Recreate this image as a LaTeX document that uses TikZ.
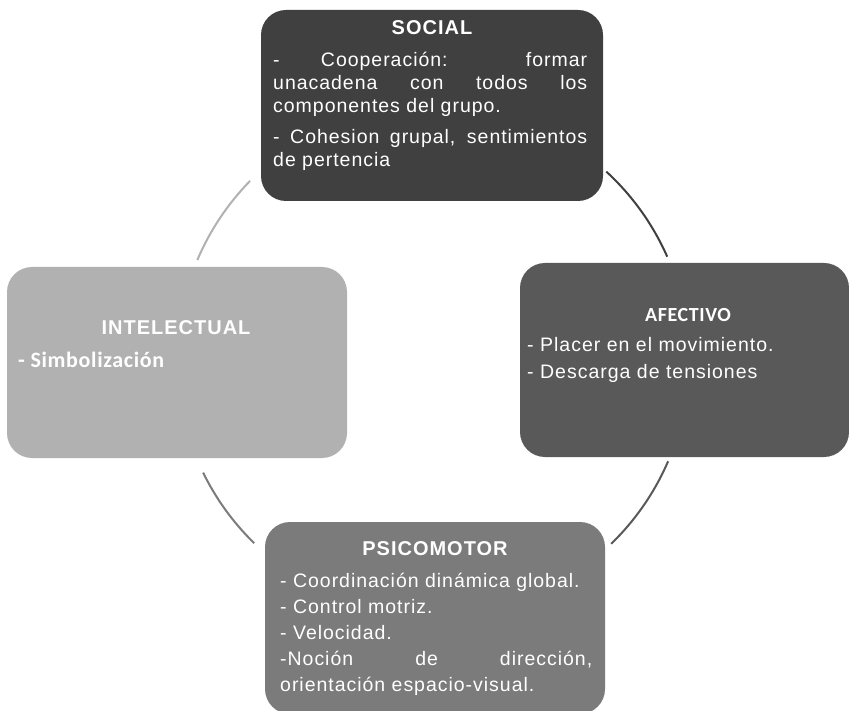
\documentclass[tikz,border=0pt]{standalone}
\usepackage{fontspec}
\setmainfont{Liberation Sans}
\newfontfamily\bodyfont[LetterSpace=5]{Liberation Sans}
\newfontfamily\calfont{Carlito}
\newfontfamily\calwide[LetterSpace=3]{Carlito}
\usetikzlibrary{calc}
\definecolor{socialfill}{HTML}{404040}
\definecolor{afecfill}{HTML}{595959}
\definecolor{psicofill}{HTML}{7B7B7B}
\definecolor{intelfill}{HTML}{B1B1B1}
\hyphenpenalty=10000
\exhyphenpenalty=10000
\begin{document}
\begin{tikzpicture}[x=1pt,y=-1pt,
  panel/.style={rounded corners=25pt, draw=none, inner sep=0pt},
  heading/.style={text=white, font=\bodyfont\bfseries\fontsize{20}{24}\selectfont, inner sep=0pt, anchor=base},
  bodytext/.style={text=white, inner sep=0pt, anchor=base west, align=justify},
  ringarc/.style={line width=2pt}]
  \useasboundingbox[fill=white] (0,0) rectangle (849,711);

  % ring joining the four panels
  \coordinate (ring) at (433,360);
  \coordinate (tlA) at ($(ring)+(224.4:256)$);
  \coordinate (blA) at ($(ring)+(153.9:256)$);
  \coordinate (brA) at ($(ring)+(45.9:256)$);
  \coordinate (trA) at ($(ring)+(-47.4:256)$);
  \draw[ringarc, color=intelfill] (tlA) arc[start angle=224.4, end angle=203.0, radius=256];
  \draw[ringarc, color=psicofill] (blA) arc[start angle=153.9, end angle=134.3, radius=256];
  \draw[ringarc, color=afecfill] (brA) arc[start angle=45.9, end angle=23.3, radius=256];
  \draw[ringarc, color=socialfill] (trA) arc[start angle=-47.4, end angle=-23.8, radius=256];

  % panels
  \node[panel, fill=socialfill, minimum width=342pt, minimum height=191pt] (social) at (432,105.5) {};
  \node[panel, fill=afecfill, minimum width=329pt, minimum height=194pt] (afectivo) at (684.5,360) {};
  \node[panel, fill=intelfill, minimum width=340pt, minimum height=191pt] (intelectual) at (177,362.5) {};
  \node[panel, fill=psicofill, minimum width=340pt, minimum height=192pt] (psicomotor) at (435,618) {};

  % SOCIAL
  \node[heading] (socialtitle) at (432,35) {SOCIAL};
  \node[bodytext, text width=314pt, font=\bodyfont\fontsize{19.5}{23}\selectfont] (socialbody) at (273,67)
    {\setlength{\parskip}{8pt}- Cooperación: formar\linebreak unacadena con todos los\linebreak componentes del grupo.\par
     - Cohesion grupal, sentimientos de pertencia};

  % AFECTIVO
  \node[heading, font=\calwide\bfseries\fontsize{20}{24}\selectfont] (afectitle) at (688,322) {AFECTIVO};
  \node[bodytext, text width=310pt, align=left, font=\bodyfont\fontsize{19.5}{27}\selectfont] (afecbody) at (527,352)
    {- Placer en el movimiento.\par - Descarga de tensiones};

  % INTELECTUAL
  \node[heading] (inteltitle) at (176,335) {INTELECTUAL};
  \node[bodytext, anchor=base west, font=\calwide\bfseries\fontsize{22}{26}\selectfont] (intelbody) at (18,367)
    {- Simbolización};

  % PSICOMOTOR
  \node[heading] (psicotitle) at (435,555) {PSICOMOTOR};
  \node[bodytext, text width=312pt, font=\bodyfont\fontsize{19.5}{26}\selectfont] (psicobody) at (280,587)
    {- Coordinación dinámica global.\par - Control motriz.\par - Velocidad.\par
     -Noción de dirección,\linebreak orientación espacio-visual.};
\end{tikzpicture}
\end{document}
